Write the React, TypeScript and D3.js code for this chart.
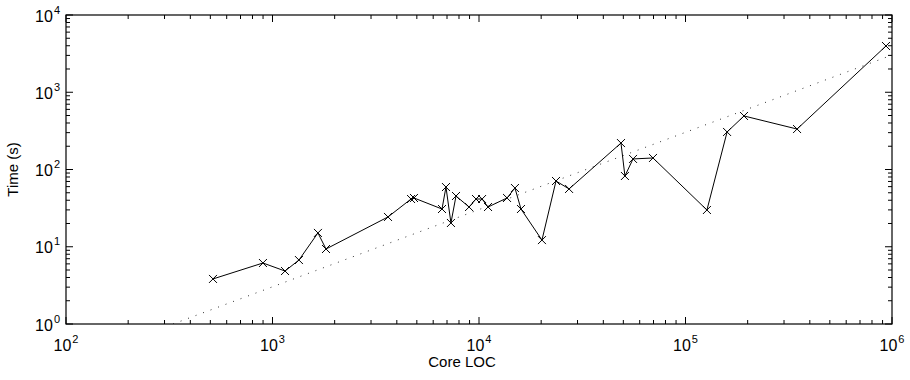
import React from "react";
import * as d3 from "d3";

const locValues = [515, 899, 1150, 1343, 1660, 1816, 3625, 4688, 4843, 6620, 6920, 7314, 7738, 8950, 9670, 10350, 11060, 13670, 14930, 15970, 20180, 23600, 27300, 48700, 50900, 55700, 69600, 127000, 159000, 192000, 347000, 935000];
const timeValues = [3.83, 6.16, 4.85, 6.73, 15.1, 9.35, 24.3, 41.5, 42.8, 30.8, 59.3, 20.3, 45.4, 32.7, 41.5, 41.5, 32.7, 42.8, 57.6, 30.8, 12.2, 71, 56, 220, 82.4, 137, 141, 29.9, 306, 493, 334, 3970];
const fitCoef = [1 / 330];
const fitExp = [1.0];
const xDecades = [2, 3, 4, 5, 6];
const yDecades = [0, 1, 2, 3, 4];
const xLabel = "Core LOC";
const yLabel = "Time (s)";

const W = 910, H = 380;
const L = 66, R = 892, T = 15, B = 324;
const FONT = "'Liberation Sans', Arial, Helvetica, sans-serif";

export default function App() {
  const x = d3.scaleLog().domain([1e2, 1e6]).range([L, R]);
  const y = d3.scaleLog().domain([1, 1e4]).range([B, T]);

  const line = d3.line<number>().x((_, i) => x(locValues[i])).y((d) => y(d));

  const fit = (v: number) => fitCoef[0] * Math.pow(v, fitExp[0]);
  const fitStart = Math.pow(1 / fitCoef[0], 1 / fitExp[0]);
  const fitPts: [number, number][] = [[fitStart, 1], [1e6, fit(1e6)]];
  const fitLine = d3.line<[number, number]>().x((d) => x(d[0])).y((d) => y(d[1]));

  const minorOf = (decs: number[]) => {
    const out: number[] = [];
    for (let k = 0; k < decs.length - 1; k++) {
      for (let m = 2; m <= 9; m++) out.push(m * Math.pow(10, decs[k]));
    }
    return out;
  };
  const xMinor = minorOf(xDecades);
  const yMinor = minorOf(yDecades);
  const major = 7, minor = 4;
  const ms = 4;

  return (
    <svg width={W} height={H} style={{ position: "absolute", left: 0, top: 0, background: "#fff" }} fontFamily={FONT}>
      <defs>
        <clipPath id="plotclip">
          <rect x={L} y={T} width={R - L} height={B - T} />
        </clipPath>
      </defs>
      <rect x={0} y={0} width={W} height={H} fill="#fff" />
      <path d={fitLine(fitPts) || ""} clipPath="url(#plotclip)" fill="none" stroke="#333" strokeWidth={1} strokeDasharray="1 7" />
      <path d={line(timeValues) || ""} fill="none" stroke="#000" strokeWidth={1} />
      {timeValues.map((t, i) => {
        const cx = x(locValues[i]), cy = y(t);
        return (
          <path key={i} d={`M${cx - ms},${cy - ms}L${cx + ms},${cy + ms}M${cx - ms},${cy + ms}L${cx + ms},${cy - ms}`} stroke="#000" strokeWidth={1} fill="none" />
        );
      })}
      <rect x={L} y={T} width={R - L} height={B - T} fill="none" stroke="#000" strokeWidth={1.2} />
      {xDecades.map((d) => {
        const px = x(Math.pow(10, d));
        return (
          <g key={"xm" + d}>
            <line x1={px} x2={px} y1={B} y2={B - major} stroke="#000" />
            <line x1={px} x2={px} y1={T} y2={T + major} stroke="#000" />
          </g>
        );
      })}
      {xMinor.map((v, i) => {
        const px = x(v);
        return (
          <g key={"xn" + i}>
            <line x1={px} x2={px} y1={B} y2={B - minor} stroke="#000" />
            <line x1={px} x2={px} y1={T} y2={T + minor} stroke="#000" />
          </g>
        );
      })}
      {yDecades.map((d) => {
        const py = y(Math.pow(10, d));
        return (
          <g key={"ym" + d}>
            <line x1={L} x2={L + major} y1={py} y2={py} stroke="#000" />
            <line x1={R} x2={R - major} y1={py} y2={py} stroke="#000" />
          </g>
        );
      })}
      {yMinor.map((v, i) => {
        const py = y(v);
        return (
          <g key={"yn" + i}>
            <line x1={L} x2={L + minor} y1={py} y2={py} stroke="#000" />
            <line x1={R} x2={R - minor} y1={py} y2={py} stroke="#000" />
          </g>
        );
      })}
      {xDecades.map((d) => {
        const px = x(Math.pow(10, d));
        return (
          <text key={"xl" + d} x={px} y={351} textAnchor="middle" fontSize={16} fill="#000">
            10<tspan fontSize={11} dx={1} dy={-8}>{d}</tspan>
          </text>
        );
      })}
      {yDecades.map((d) => {
        const py = y(Math.pow(10, d));
        return (
          <text key={"yl" + d} x={L - 6} y={py + 6.5} textAnchor="end" fontSize={16} fill="#000">
            10<tspan fontSize={11} dx={1} dy={-8}>{d}</tspan>
          </text>
        );
      })}
      <text x={462} y={367} textAnchor="middle" fontSize={15} fill="#000">{xLabel}</text>
      <text transform={`translate(18,${(T + B) / 2}) rotate(-90)`} textAnchor="middle" fontSize={15} fill="#000">{yLabel}</text>
    </svg>
  );
}
